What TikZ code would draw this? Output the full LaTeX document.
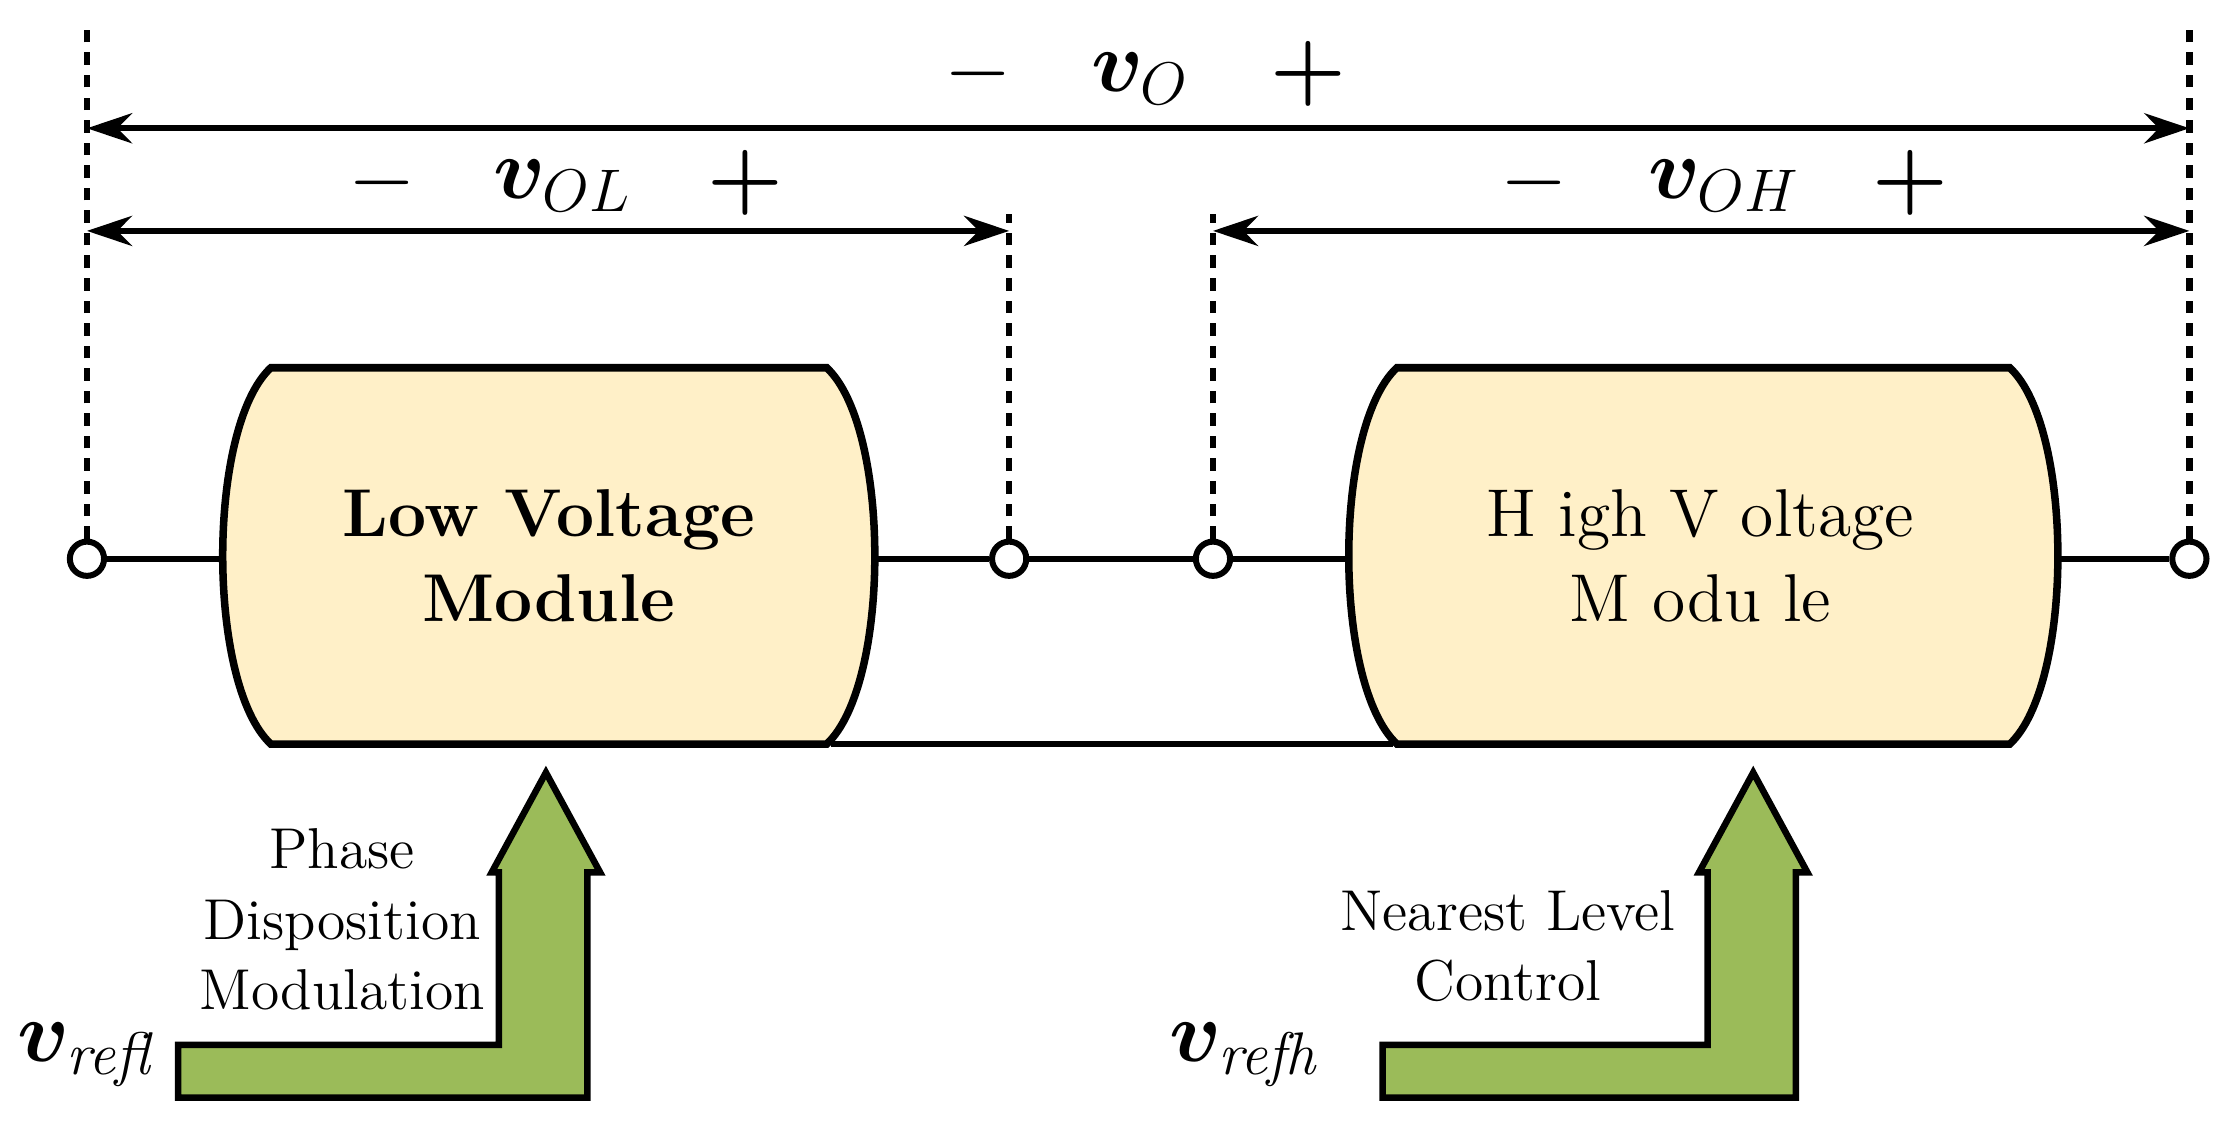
\documentclass[tikz,border=0pt]{standalone}
\usepackage{amsmath,bm}
\usetikzlibrary{arrows.meta}
\definecolor{modfill}{HTML}{FFF0C8}
\definecolor{grn}{HTML}{9BBB59}
\begin{document}
\begin{tikzpicture}[x=0.01cm,y=-0.01cm,
  term/.style={circle,draw,line width=1.2pt,fill=white,minimum size=0.24cm,inner sep=0},
  wire/.style={line width=1.2pt},
  dots/.style={line width=1.3pt,dash pattern=on 2.5pt off 2pt},
  dim/.style={line width=1.2pt,{Stealth[length=9pt,width=6pt]}-{Stealth[length=9pt,width=6pt]}},
  mod/.style={line width=1.5pt,fill=modfill},
  garrow/.style={line width=1.3pt,fill=grn},
  lbl/.style={font=\fontsize{11.5}{14}\selectfont,align=center},
  big/.style={font=\fontsize{18}{20}\selectfont,inner sep=1pt}]
\useasboundingbox (0,0) rectangle (1568,794);
% modules
\draw[mod] (190,258) -- (580,258) .. controls (625,300) and (625,480) .. (580,522) -- (190,522) .. controls (145,480) and (145,300) .. (190,258) -- cycle;
\draw[mod] (980,258) -- (1410,258) .. controls (1455,300) and (1455,480) .. (1410,522) -- (980,522) .. controls (935,480) and (935,300) .. (980,258) -- cycle;
\node[lbl,font=\fontsize{13.5}{17}\selectfont\bfseries] (low) at (385,390) {Low Voltage\\Module};
\node[lbl,font=\fontsize{13.5}{17}\selectfont] (high) at (1193,390) {H igh V oltage\\M odu le};
\coordinate (l1) at (155,392); \coordinate (l2) at (615,392);
\coordinate (h1) at (945,392); \coordinate (h2) at (1445,392);
\coordinate (b1) at (583,522); \coordinate (b2) at (977,522);
\draw[wire] (b1) -- (b2);
% terminals
\node[term] (t1) at (61,392) {};
\node[term] (t2) at (708,392) {};
\node[term] (t3) at (851,392) {};
\node[term] (t4) at (1536,392) {};
\draw[wire] (t1) -- (l1); \draw[wire] (l2) -- (t2); \draw[wire] (t2) -- (t3);
\draw[wire] (t3) -- (h1); \draw[wire] (h2) -- (t4);
% dotted
\coordinate (d1) at (61,15); \coordinate (d4) at (1536,15);
\coordinate (d2) at (708,150); \coordinate (d3) at (851,150);
\draw[dots] (t1) -- (d1); \draw[dots] (t4) -- (d4);
\draw[dots] (t2) -- (d2); \draw[dots] (t3) -- (d3);
% dimension arrows
\coordinate (a1) at (61,90); \coordinate (a2) at (1536,90);
\coordinate (a3) at (61,162); \coordinate (a4) at (708,162);
\coordinate (a5) at (851,162); \coordinate (a6) at (1536,162);
\draw[dim] (a1) -- (a2); \draw[dim] (a3) -- (a4); \draw[dim] (a5) -- (a6);
\node[big] (m1) at (686,52) {$-$}; \node[big] (vo) at (800,55) {$\bm{v}_{O}$}; \node[big] (p1) at (918,52) {$\bm{+}$};
\node[big] (m2) at (268,128) {$-$}; \node[big] (vol) at (395,130) {$\bm{v}_{OL}$}; \node[big] (p2) at (523,128) {$\bm{+}$};
\node[big] (m3) at (1076,128) {$-$}; \node[big] (voh) at (1210,130) {$\bm{v}_{OH}$}; \node[big] (p3) at (1340,128) {$\bm{+}$};
% green arrows
\draw[garrow] (125,733) -- (350,733) -- (350,612) -- (345,612) -- (383,542) -- (421,612) -- (412,612) -- (412,770) -- (125,770) -- cycle;
\draw[garrow] (970,733) -- (1198,733) -- (1198,612) -- (1192,612) -- (1230,542) -- (1268,612) -- (1260,612) -- (1260,770) -- (970,770) -- cycle;
\node[lbl] (pd) at (240,645) {Phase\\Disposition\\Modulation};
\node[lbl] (nl) at (1058,664) {Nearest Level\\Control};
\node[big] (vrl) at (62,740) {$\bm{v}_{\mathbf{\mathit{refl}}}$};
\node[big] (vrh) at (874,740) {$\bm{v}_{\mathbf{\mathit{refh}}}$};
\end{tikzpicture}
\end{document}
